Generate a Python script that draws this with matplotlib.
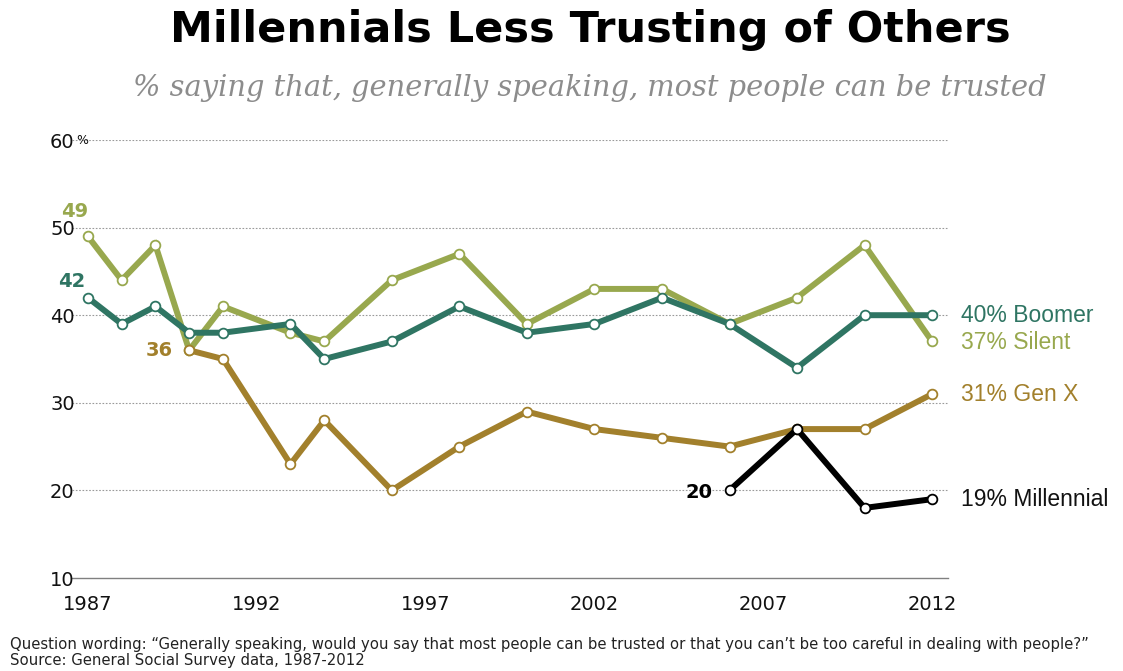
import matplotlib
matplotlib.use("Agg")
import matplotlib.pyplot as plt

# GSS survey years
years = [1987, 1988, 1989, 1990, 1991, 1993, 1994, 1996, 1998,
         2000, 2002, 2004, 2006, 2008, 2010, 2012]

silent = [49, 44, 48, 36, 41, 38, 37, 44, 47, 39, 43, 43, 39, 42, 48, 37]
boomer = [42, 39, 41, 38, 38, 39, 35, 37, 41, 38, 39, 42, 39, 34, 40, 40]

genx_years = years[3:]
genx = [36, 35, 23, 28, 20, 25, 29, 27, 26, 25, 27, 27, 31]

mill_years = [2006, 2008, 2010, 2012]
millennial = [20, 27, 18, 19]

yticks = [10, 20, 30, 40, 50, 60]
xticks = [1987, 1992, 1997, 2002, 2007, 2012]

c_silent = '#98a84e'
c_boomer = '#2f7563'
c_genx = '#a2802c'
c_mill = '#000000'

fig = plt.figure(figsize=(11.23, 6.71), dpi=100)
ax = fig.add_axes([72/1123, 93/671, 876/1123, 438/671])

def draw(xs, ys, color, z):
    ax.plot(xs, ys, color=color, lw=4.3, marker='o', ms=7,
            mfc='white', mec=color, mew=1.3, zorder=z,
            solid_joinstyle='miter', clip_on=False)

draw(years, silent, c_silent, 3)
draw(years, boomer, c_boomer, 4)
draw(genx_years, genx, c_genx, 5)
draw(mill_years, millennial, c_mill, 6)

ax.set_xlim(1986.53, 2012.47)
ax.set_ylim(10, 60)
for y in yticks[1:]:
    ax.axhline(y, color='#9a9a9a', lw=0.8, ls=(0, (1.5, 1.5)), zorder=1)
ax.axhline(10, color='#808080', lw=1.0, zorder=1, clip_on=False)

for s in ax.spines.values():
    s.set_visible(False)
ax.set_yticks(yticks)
ax.set_yticklabels([str(v) for v in yticks])
ax.set_xticks(xticks)
ax.set_xticklabels([str(v) for v in xticks])
ax.tick_params(length=0, labelsize=14, colors='#111111')
ax.tick_params(axis='y', pad=0)
for lab in ax.get_yticklabels():
    lab.set_horizontalalignment('left')
    lab.set_x(-22/876)
ax.tick_params(axis='x', pad=12)
fig.text(72/1123 + 4/1123, 1 - 140/671, '%', fontsize=9, va='center', ha='left',
         color='#111111')

# start labels
bold = dict(fontsize=14, fontweight='bold', va='center')
ax.text(1986.6, 51.8, '49', color=c_silent, ha='center', **bold)
ax.text(1986.53, 43.8, '42', color=c_boomer, ha='center', **bold)
ax.text(1989.52, 36, '36', color=c_genx, ha='right', **bold)
ax.text(2005.49, 19.8, '20', color=c_mill, ha='right', **bold)

# end labels
end = dict(fontsize=16.5, family='Liberation Sans', va='center', ha='left')
ax.text(2012.85, 40, '40% Boomer', color=c_boomer, **end)
ax.text(2012.85, 36.9, '37% Silent', color=c_silent, **end)
ax.text(2012.85, 31, '31% Gen X', color=c_genx, **end)
ax.text(2012.85, 19, '19% Millennial', color='#111111', **end)

fig.text(590/1123, 1 - 30/671, 'Millennials Less Trusting of Others',
         fontsize=31, fontweight='bold', ha='center', va='center', color='#000000')
fig.text(590/1123, 1 - 88/671,
         '% saying that, generally speaking, most people can be trusted',
         fontsize=20.8, family='DejaVu Serif', style='italic', ha='center',
         va='center', color='#8c8c8c')

foot = dict(fontsize=10.7, family='DejaVu Sans', ha='left', va='center',
            color='#222222')
fig.text(10/1123, 1 - 645/671,
         'Question wording: \u201cGenerally speaking, would you say that most people can be '
         'trusted or that you can\u2019t be too careful in dealing with people?\u201d', **foot)
fig.text(10/1123, 1 - 661/671, 'Source: General Social Survey data, 1987-2012', **foot)

fig.savefig('out.png', dpi=100)
